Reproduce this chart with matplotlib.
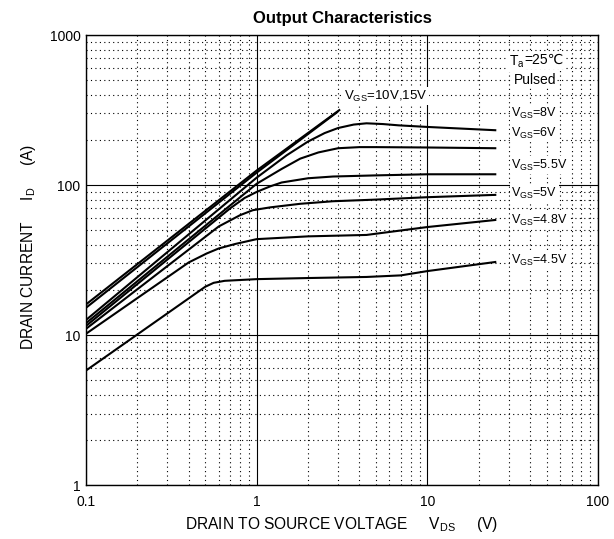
import matplotlib
matplotlib.use('Agg')
import matplotlib.pyplot as plt
from matplotlib.ticker import LogLocator, NullFormatter, FixedFormatter, FixedLocator

plt.rcParams['font.family'] = ['Liberation Sans', 'DejaVu Sans']
plt.rcParams['mathtext.fontset'] = 'custom'
plt.rcParams['mathtext.rm'] = 'Liberation Sans'

# curves: V_DS (V) vs I_D (A)
vds_15v = [0.1, 1.0, 3.05]
id_15v = [16.0, 125, 316]
vds_10v = [0.1, 1.0, 2.95]
id_10v = [15.2, 121, 305]
vds_8v = [0.1, 1.0, 1.5, 2.0, 2.5, 3.0, 3.7, 4.4, 5.5, 6.8, 10, 25]
id_8v = [12.6, 112, 158, 195, 222, 240, 253, 258, 255, 250, 244, 232]
vds_6v = [0.1, 1.0, 1.4, 1.8, 2.3, 3.0, 4.0, 5.0, 10, 25]
id_6v = [12.0, 102, 128, 150, 165, 176, 179, 179, 178, 176]
vds_55v = [0.1, 0.7, 0.85, 1.0, 1.2, 1.4, 2.0, 2.8, 5.0, 10, 25]
id_55v = [11.5, 70, 82, 90, 98, 104, 111, 114, 116, 118, 118]
vds_5v = [0.1, 0.6, 0.8, 0.95, 1.2, 1.8, 2.8, 5.0, 10, 25]
id_5v = [11.0, 53, 63, 68, 71, 75, 78, 80, 83, 86]
vds_48v = [0.1, 0.4, 0.51, 0.6, 0.75, 1.0, 2.0, 4.4, 10, 25]
id_48v = [10.2, 30.5, 35, 37.8, 40.5, 43.6, 45.5, 46.5, 52.5, 58.5]
vds_45v = [0.1, 0.5, 0.56, 0.65, 1.0, 2.0, 4.4, 7.0, 10, 25]
id_45v = [5.8, 21, 22.3, 23.0, 23.6, 24.0, 24.4, 25.0, 26.7, 30.7]

curves = [(vds_15v, id_15v), (vds_10v, id_10v), (vds_8v, id_8v), (vds_6v, id_6v),
          (vds_55v, id_55v), (vds_5v, id_5v), (vds_48v, id_48v), (vds_45v, id_45v)]

x_ticks = [0.1, 1, 10, 100]
x_tick_labels = ['0.1', '1', '10', '100']
y_ticks = [1, 10, 100, 1000]
y_tick_labels = ['1', '10', '100', '1000']

fig = plt.figure(figsize=(6.14, 5.39), dpi=100)
ax = fig.add_axes([0.140, 0.100, 0.834, 0.835])
ax.set_xscale('log')
ax.set_yscale('log')
ax.set_xlim(0.1, 100)
ax.set_ylim(1, 1000)

# grid: solid decades, dotted minors
ax.grid(which='major', color='black', linestyle='-', linewidth=0.8)
ax.grid(which='minor', color='black', linestyle=(0, (1, 3)), linewidth=0.8)
ax.xaxis.set_minor_locator(LogLocator(base=10, subs=range(2, 10)))
ax.yaxis.set_minor_locator(LogLocator(base=10, subs=range(2, 10)))
ax.xaxis.set_minor_formatter(NullFormatter())
ax.yaxis.set_minor_formatter(NullFormatter())
ax.xaxis.set_major_locator(FixedLocator(x_ticks))
ax.xaxis.set_major_formatter(FixedFormatter(x_tick_labels))
ax.yaxis.set_major_locator(FixedLocator(y_ticks))
ax.yaxis.set_major_formatter(FixedFormatter(y_tick_labels))
ax.tick_params(which='both', length=0, labelsize=10)
ax.tick_params(axis='x', pad=7)
ax.tick_params(axis='y', pad=4)
for s in ax.spines.values():
    s.set_linewidth(1.0)

for v, i in curves:
    ax.plot(v, i, color='black', linewidth=1.5)

box = dict(facecolor='white', edgecolor='none', pad=1.0)
ax.text(3.25, 390, r'V$_{\rm GS}$=10V,15V', fontsize=9.5, ha='left', va='center', bbox=box)
t1 = ax.text(30, 660, r'T$_{\rm a}$', fontsize=10, ha='left', va='center', bbox=box)
ax.annotate('=25℃', xy=(1, 0.62), xycoords=t1, fontsize=10, ha='left', va='center', bbox=box)
ax.text(32, 505, 'Pulsed', fontsize=10, ha='left', va='center', bbox=box)
labels = ['8V', '6V', '5.5V', '5V', '4.8V', '4.5V']
label_y = [300, 222, 136, 88, 58, 31.5]
for lab, y in zip(labels, label_y):
    ax.text(31, y, r'V$_{\rm GS}$=' + lab, fontsize=9, ha='left', va='center', bbox=box)

ax.set_title('Output Characteristics', fontsize=12, fontweight='bold', pad=9)
ax.set_xlabel(r'DRAIN TO SOURCE VOLTAGE     V$_{\rm DS}$     (V)', fontsize=11.2)
ax.set_ylabel(r'DRAIN CURRENT     I$_{\rm D}$     (A)', fontsize=11.2)
ax.xaxis.set_label_coords(0.5, -0.066)
ax.yaxis.set_label_coords(-0.094, 0.53)

fig.savefig('out.png', dpi=100)
